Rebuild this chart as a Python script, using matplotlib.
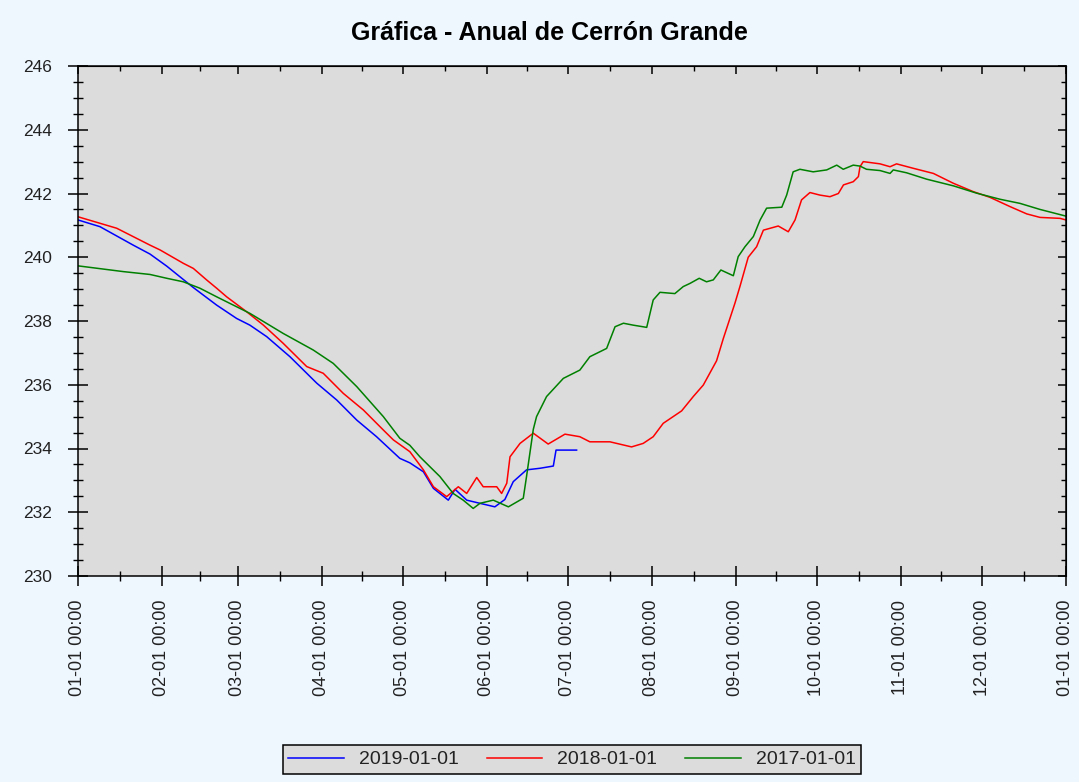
import matplotlib
matplotlib.use("Agg")
import matplotlib.pyplot as plt
from matplotlib.ticker import FixedLocator, MultipleLocator

plt.rcParams['font.family'] = ['Liberation Sans', 'DejaVu Sans']

title = "Gráfica - Anual de Cerrón Grande"
month_start_days = [0, 31, 59, 90, 120, 151, 181, 212, 243, 273, 304, 334, 365]
month_labels = ["01-01 00:00", "02-01 00:00", "03-01 00:00", "04-01 00:00",
                "05-01 00:00", "06-01 00:00", "07-01 00:00", "08-01 00:00",
                "09-01 00:00", "10-01 00:00", "11-01 00:00", "12-01 00:00",
                "01-01 00:00"]
series_names = ["2019-01-01", "2018-01-01", "2017-01-01"]

days_2019 = [0, 8.1, 20.4, 26.6, 32.8, 42.6, 51.2, 58.6, 63.5, 69.7, 78.3, 88.2,
             95.6, 103.0, 110.3, 118.9, 122.6, 127.6, 131.3, 136.8, 139.3, 143.6,
             148.5, 154.0, 157.7, 160.8, 165.7, 170.7, 175.6, 176.6, 184.2]
level_2019 = [241.17, 240.96, 240.38, 240.10, 239.72, 239.05, 238.50, 238.08, 237.87,
              237.51, 236.88, 236.05, 235.52, 234.89, 234.37, 233.69, 233.55, 233.27,
              232.75, 232.38, 232.72, 232.38, 232.28, 232.17, 232.40, 232.96, 233.33,
              233.38, 233.45, 233.95, 233.95]

days_2018 = [0, 14.3, 26.6, 30.3, 38.9, 42.6, 47.5, 51.2, 54.9, 62.3, 68.5, 75.8,
             84.5, 90.6, 98.0, 105.4, 112.8, 116.5, 122.6, 127.6, 131.3, 136.2, 140.5,
             143.6, 147.3, 149.7, 154.7, 156.5, 158.4, 159.6, 163.3, 168.2, 173.7,
             179.9, 185.4, 189.1, 196.5, 204.5, 208.8, 212.5, 216.2, 223.0, 227.3,
             231.0, 235.9, 238.4, 242.7, 244.6, 247.6, 250.7, 253.2, 258.7, 262.4,
             264.9, 267.3, 270.4, 274.1, 277.8, 280.9, 282.8, 286.4, 288.3, 288.9,
             290.1, 296.3, 300.0, 302.4, 308.6, 316.0, 323.4, 330.7, 336.9, 344.3,
             350.5, 355.4, 362.8, 365]
level_2018 = [241.27, 240.91, 240.38, 240.23, 239.81, 239.65, 239.29, 239.03, 238.76,
              238.29, 237.87, 237.30, 236.57, 236.36, 235.73, 235.21, 234.58, 234.27,
              233.90, 233.33, 232.80, 232.49, 232.80, 232.59, 233.09, 232.80, 232.80,
              232.59, 232.91, 233.74, 234.16, 234.48, 234.14, 234.45, 234.37, 234.21,
              234.21, 234.05, 234.16, 234.37, 234.79, 235.18, 235.63, 235.99, 236.75,
              237.45, 238.56, 239.10, 240.00, 240.33, 240.85, 240.98, 240.80, 241.17,
              241.80, 242.03, 241.95, 241.90, 242.00, 242.27, 242.37, 242.53, 242.84,
              243.00, 242.93, 242.84, 242.93, 242.79, 242.63, 242.32, 242.06, 241.88,
              241.59, 241.36, 241.25, 241.22, 241.17]

days_2017 = [0, 16.7, 26.6, 32.8, 38.9, 45, 51.2, 63.5, 75.8, 86.9, 94.3, 103.0,
             112.8, 118.9, 122.6, 126.3, 133.7, 138.6, 142.3, 146.0, 148.5, 153.4,
             159.0, 164.5, 165.7, 168.2, 169.4, 173.1, 179.3, 185.4, 189.1, 195.3,
             198.4, 201.5, 205.1, 210.1, 212.5, 215.0, 220.5, 223.6, 226.1, 229.5,
             232.2, 234.7, 237.5, 242.1, 243.9, 246.4, 249.5, 252.0, 254.4, 260.0,
             261.8, 264.2, 266.7, 271.6, 276.6, 280.3, 282.7, 286.4, 288.9, 291.3,
             296.3, 300.0, 301.2, 306.1, 313.5, 323.4, 332.0, 340.6, 348.0, 355.4, 365]
level_2017 = [239.73, 239.55, 239.46, 239.34, 239.23, 239.03, 238.76, 238.24, 237.61,
              237.09, 236.67, 235.94, 235.00, 234.32, 234.10, 233.74, 233.12, 232.59,
              232.38, 232.12, 232.28, 232.38, 232.17, 232.44, 233.12, 234.60, 235.00,
              235.63, 236.20, 236.46, 236.88, 237.14, 237.82, 237.93, 237.87, 237.80,
              238.66, 238.90, 238.86, 239.08, 239.18, 239.34, 239.23, 239.29, 239.60,
              239.42, 240.02, 240.33, 240.65, 241.17, 241.54, 241.57, 241.95, 242.68,
              242.76, 242.68, 242.74, 242.89, 242.76, 242.89, 242.86, 242.76, 242.72,
              242.63, 242.74, 242.65, 242.45, 242.24, 242.01, 241.82, 241.69, 241.50,
              241.29]

fig_bg = "#EEF6FE"
ax_bg = "#DCDCDC"

fig = plt.figure(figsize=(10.79, 7.82), dpi=100, facecolor=fig_bg)
ax = fig.add_axes([78/1079, 1-576/782, (1066-78)/1079, (576-66)/782])
ax.set_facecolor(ax_bg)

ax.plot(days_2019, level_2019, color="#0000FF", lw=1.1, label=series_names[0])
ax.plot(days_2018, level_2018, color="#FF0000", lw=1.1, label=series_names[1])
ax.plot(days_2017, level_2017, color="#008000", lw=1.1, label=series_names[2])

ax.set_xlim(0, 365)
ax.set_ylim(230, 246)

mids = [(a + b) / 2 for a, b in zip(month_start_days[:-1], month_start_days[1:])]
ax.xaxis.set_major_locator(FixedLocator(month_start_days))
ax.xaxis.set_minor_locator(FixedLocator(mids))
ax.set_xticklabels(month_labels, rotation=90, fontsize=13, color="#222222")
ax.yaxis.set_major_locator(MultipleLocator(2))
ax.yaxis.set_minor_locator(MultipleLocator(0.5))
for lab in ax.get_yticklabels():
    lab.set_fontsize(12.5)
    lab.set_color("#222222")

ax.tick_params(which='major', direction='inout', length=14, width=1.1, color='black')
ax.tick_params(which='minor', direction='inout', length=7.5, width=1.0, color='black')
ax.tick_params(axis='x', which='major', pad=10)
ax.tick_params(axis='y', which='major', pad=12)

for sp in ax.spines.values():
    sp.set_linewidth(1.1)
    sp.set_color('black')

# top and right inward ticks
secx = ax.secondary_xaxis('top')
secx.xaxis.set_major_locator(FixedLocator(month_start_days))
secx.xaxis.set_minor_locator(FixedLocator(mids))
secx.tick_params(which='major', direction='in', length=6, width=1.1, labeltop=False)
secx.tick_params(which='minor', direction='in', length=3.5, width=1.0)
secx.set_xticklabels([])
secy = ax.secondary_yaxis('right')
secy.yaxis.set_major_locator(MultipleLocator(2))
secy.yaxis.set_minor_locator(MultipleLocator(0.5))
secy.tick_params(which='major', direction='in', length=6, width=1.1, labelright=False)
secy.tick_params(which='minor', direction='in', length=3.5, width=1.0)
secy.set_yticklabels([])

fig.text(549/1079, 1-33/782, title, ha='center', va='center',
         fontsize=18, fontweight='bold', color='black')

leg = fig.legend(loc='center', bbox_to_anchor=(572/1079, 1-759.5/782), ncol=3,
                 fontsize=14, frameon=True, fancybox=False, facecolor=ax_bg,
                 edgecolor='black', framealpha=1, handlelength=2.85,
                 handletextpad=0.77, columnspacing=1.45, borderpad=0.28,
                 borderaxespad=0)
leg.get_frame().set_linewidth(1.1)
for t in leg.get_texts():
    t.set_color("#222222")

fig.savefig("out.png", dpi=100, facecolor=fig_bg)
